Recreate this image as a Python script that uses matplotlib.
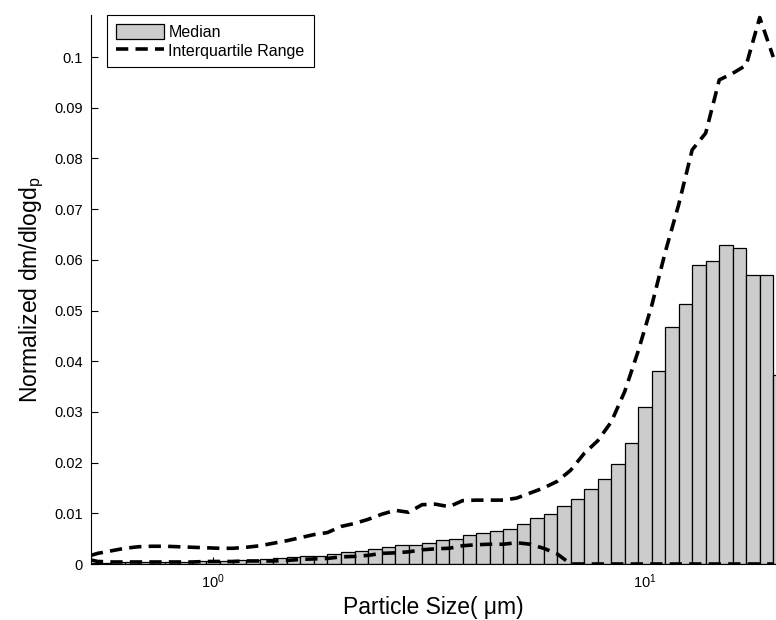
import numpy as np
import matplotlib
matplotlib.use("Agg")
import matplotlib.pyplot as plt
from matplotlib.ticker import FixedLocator, NullLocator, FuncFormatter

plt.rcParams["font.family"] = ["Liberation Sans", "DejaVu Sans"]
plt.rcParams["mathtext.fontset"] = "custom"
plt.rcParams["mathtext.rm"] = "Liberation Sans"

# APS channel sizes (um)
sizes = [0.523, 0.542, 0.583, 0.626, 0.673, 0.723, 0.777, 0.835, 0.898, 0.965,
         1.037, 1.114, 1.197, 1.286, 1.382, 1.486, 1.596, 1.715, 1.843, 1.981,
         2.129, 2.288, 2.458, 2.642, 2.839, 3.051, 3.278, 3.523, 3.786, 4.068,
         4.371, 4.698, 5.048, 5.425, 5.829, 6.264, 6.732, 7.234, 7.774, 8.354,
         8.977, 9.647, 10.37, 11.14, 11.97, 12.86, 13.82, 14.86, 15.96, 17.15,
         18.43, 19.81]

median = [0.0002, 0.0002, 0.0003, 0.0003, 0.0003, 0.0004, 0.0004, 0.0004, 0.0005, 0.0005,
          0.0006, 0.0007, 0.0008, 0.0010, 0.0011, 0.0013, 0.0015, 0.0016, 0.0020, 0.0023,
          0.0026, 0.0030, 0.0034, 0.0037, 0.0037, 0.0042, 0.0047, 0.0050, 0.0057, 0.0061,
          0.0066, 0.0070, 0.0078, 0.0091, 0.0098, 0.0114, 0.0128, 0.0148, 0.0167, 0.0197,
          0.0238, 0.0310, 0.0381, 0.0468, 0.0513, 0.0589, 0.0598, 0.0629, 0.0623, 0.0571,
          0.0571, 0.0372]

upper_q = [0.0017, 0.0021, 0.0026, 0.0031, 0.0034, 0.0035, 0.0035, 0.0034, 0.0033, 0.0032,
           0.0031, 0.0031, 0.0033, 0.0036, 0.0041, 0.0046, 0.0052, 0.0058, 0.0062, 0.0074,
           0.0080, 0.0088, 0.0098, 0.0106, 0.0102, 0.0117, 0.0118, 0.0113, 0.0125, 0.0126,
           0.0126, 0.0126, 0.0130, 0.0140, 0.0150, 0.0163, 0.0185, 0.0218, 0.0243, 0.0280,
           0.0340, 0.0420, 0.0510, 0.0615, 0.0709, 0.0817, 0.0850, 0.0955, 0.0968, 0.0984,
           0.1078, 0.1000]

lower_q = [0.0008, 0.0005, 0.0004, 0.0004, 0.0004, 0.0004, 0.0004, 0.0004, 0.0004, 0.0005,
           0.0005, 0.0005, 0.0006, 0.0006, 0.0006, 0.0007, 0.0009, 0.0010, 0.0011, 0.0014,
           0.0015, 0.0017, 0.0021, 0.0022, 0.0024, 0.0028, 0.0030, 0.0031, 0.0036, 0.0038,
           0.0039, 0.0039, 0.0042, 0.0039, 0.0031, 0.0020, 0.0, 0.0, 0.0, 0.0,
           0.0, 0.0, 0.0, 0.0, 0.0, 0.0, 0.0, 0.0, 0.0, 0.0,
           0.0, 0.0]

d = np.array(sizes)
edges = np.append(d, d[-1] * 10 ** (1 / 32))
widths = np.diff(edges)

fig = plt.figure(figsize=(7.76, 6.2), dpi=100)
ax = fig.add_axes([91 / 776, 1 - 564 / 620, 685 / 776, 549 / 620])

dash = (0, (3.4, 2.0))
bars = ax.bar(d, median, width=widths, align="edge", color="#cccccc",
              edgecolor="black", linewidth=0.9, zorder=2)
iqr, = ax.plot(d, upper_q, color="black", lw=2.6, linestyle=dash, zorder=3)
ax.plot(d, lower_q, color="black", lw=2.6, linestyle=dash, zorder=3)

ax.set_xscale("log")
ax.set_xlim(0.523, 20.1)
ax.set_ylim(0, 0.1083)

ax.xaxis.set_major_locator(FixedLocator([1, 10]))
ax.xaxis.set_minor_locator(NullLocator())
ax.set_yticks(np.arange(0, 0.1001, 0.01))
ax.yaxis.set_major_formatter(FuncFormatter(lambda v, p: "%g" % round(v, 3)))
ax.tick_params(direction="in", length=5, width=0.8, labelsize=10.5, pad=6)

for s in ["top", "right"]:
    ax.spines[s].set_visible(False)
for s in ["left", "bottom"]:
    ax.spines[s].set_linewidth(0.8)

ax.set_xlabel("Particle Size( \u03bcm)", fontsize=16.5, labelpad=4)
ax.set_ylabel("Normalized dm/dlogd$_{\\mathregular{p}}$", fontsize=16.5, labelpad=6)

leg = ax.legend([bars, iqr], ["Median", "Interquartile Range"],
                loc="upper left", bbox_to_anchor=(16 / 685, 1.0), borderaxespad=0,
                fancybox=False, edgecolor="black", framealpha=1, fontsize=11.5,
                handlelength=3.0, handleheight=1.05, handletextpad=0.3,
                borderpad=0.55, labelspacing=0.2)
leg.get_frame().set_linewidth(0.8)

fig.savefig("out.png", dpi=100)
